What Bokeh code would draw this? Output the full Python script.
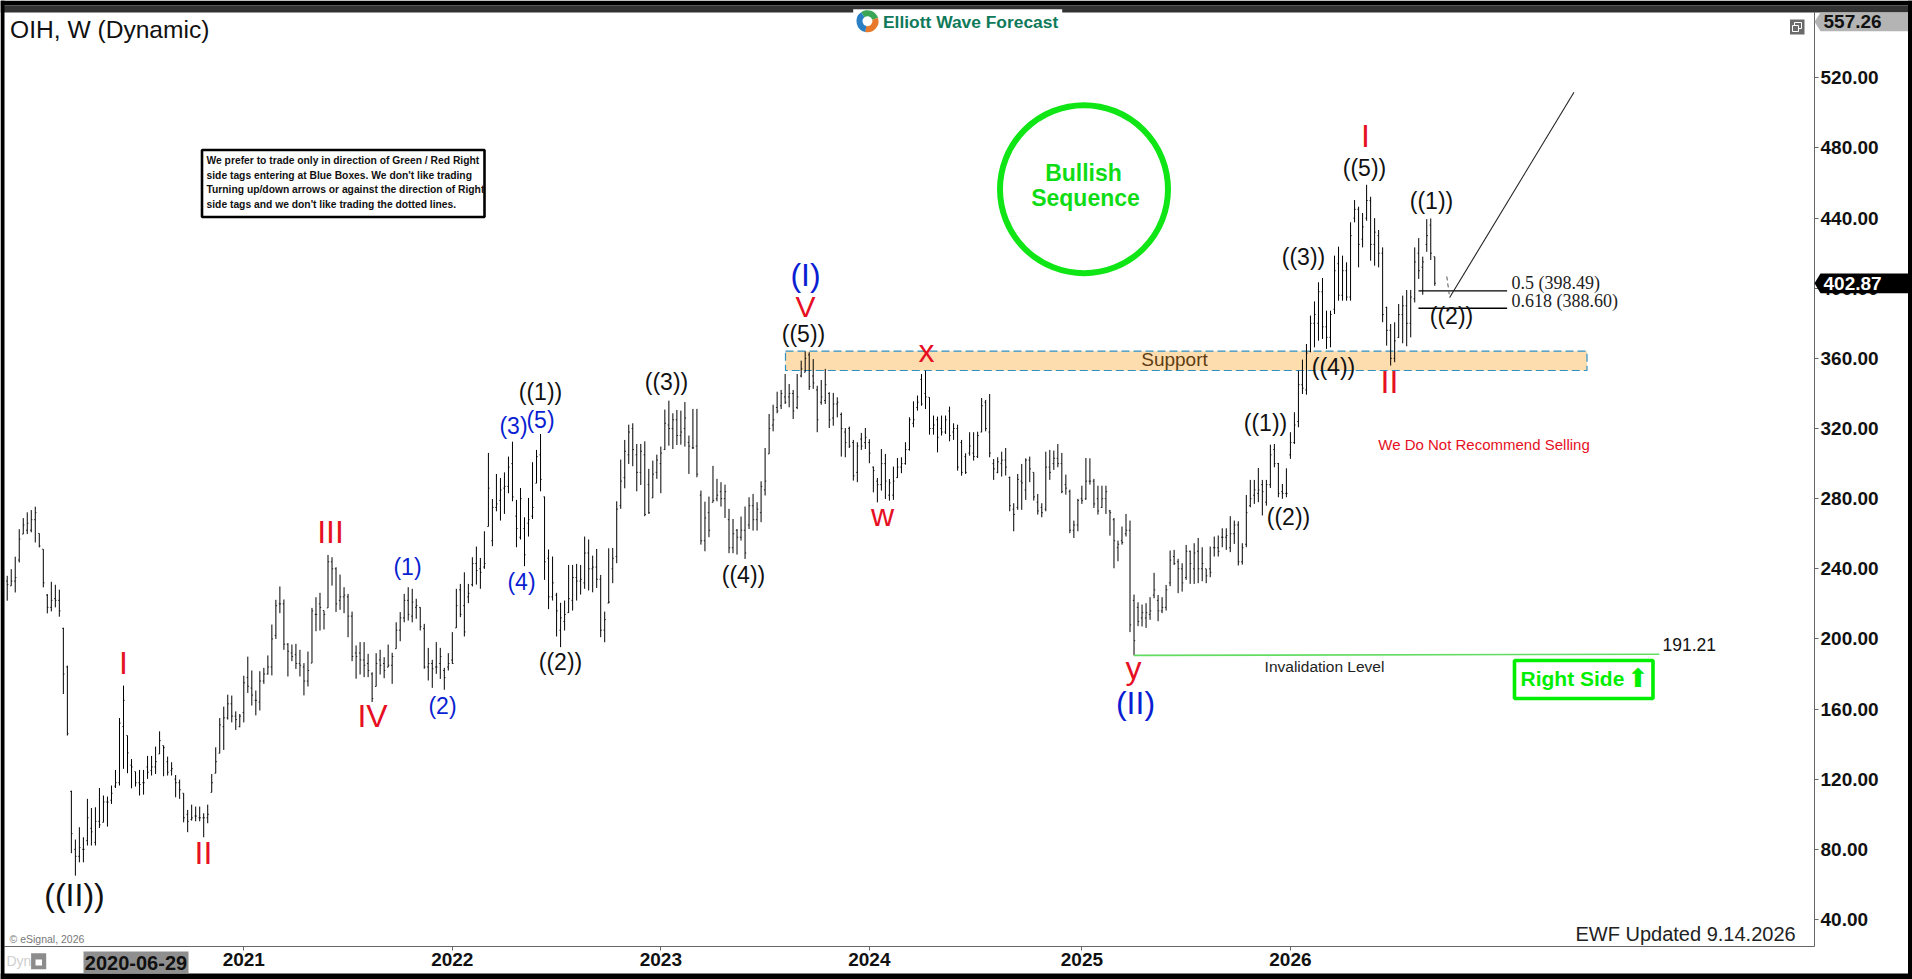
import numpy as np
import pandas as pd
from bokeh.core.properties import value
from bokeh.embed import file_html
from bokeh.models import (BoxAnnotation, ColumnDataSource, FixedTicker, Label,
                          NumeralTickFormatter, PolyAnnotation, Range1d)
from bokeh.plotting import figure
from bokeh.resources import INLINE

# weekly OHLC
first_week = "2019-11-18"
highs = [
    236.0, 239.8, 246.9, 262.6, 268.9, 272.2, 273.5, 275.4, 260.2, 251.2, 225.6, 232.6, 230.9, 228.1, 206.4, 184.8,
    113.5, 85.6, 92.6, 86.9, 108.8, 103.6, 104.0, 115.0, 110.7, 110.1, 116.4, 125.3, 154.9, 173.4, 144.9, 131.5,
    124.3, 125.3, 125.3, 133.3, 133.3, 138.6, 147.3, 139.2, 132.9, 129.7, 122.4, 119.8, 112.0, 102.5, 105.5, 104.4,
    104.4, 100.6, 105.5, 123.0, 138.2, 154.9, 161.4, 168.2, 167.7, 158.7, 157.2, 179.0, 189.9,
    182.0, 170.6, 181.6, 183.5, 190.6, 208.2, 222.3, 229.9, 222.5, 197.6, 196.8, 197.2, 193.8, 186.2, 192.8, 217.7,
    223.8, 226.3, 216.2, 247.9, 246.6, 240.9, 236.7, 229.5, 225.7, 215.6, 196.3, 198.2, 198.2, 191.5, 181.0, 191.9,
    193.8, 189.6, 196.8, 192.1, 209.5, 215.3, 225.7, 229.5, 228.6, 222.9, 218.1, 208.6, 194.9, 188.1, 198.2, 194.9,
    183.5, 191.9, 203.9, 228.6, 231.4, 238.0, 231.4, 246.6, 252.7, 246.2, 261.4, 306.1,
    279.8, 294.1, 291.8, 295.0, 304.0, 312.5, 279.3, 286.1, 269.4, 280.4, 300.8, 307.8, 316.9, 281.2, 251.0, 247.0,
    226.3, 220.6, 221.9, 242.2, 242.2, 242.8, 242.2, 258.4, 256.7, 247.5, 251.3, 236.5, 215.6, 251.7, 251.9, 278.5,
    302.3, 313.5, 322.2, 323.0, 311.2, 311.2, 312.7, 297.0, 301.7, 305.1, 309.7, 330.8, 335.9, 328.7, 330.6, 330.2,
    335.1, 316.0, 331.2, 331.2, 284.6, 278.3, 281.2, 298.7, 291.3, 289.4, 288.0,
    274.2, 268.4, 262.7, 269.8, 275.5, 280.8, 282.7, 278.0, 289.9, 308.9, 328.3, 333.6, 341.0, 342.0, 351.1, 345.4,
    342.0, 351.1, 358.7, 364.0, 363.5, 359.6, 344.4, 347.7, 354.0, 340.7, 340.3, 337.8, 329.1, 320.3, 321.1, 313.5,
    312.2, 317.5, 320.3, 313.9, 298.3, 291.8, 308.3, 305.5, 291.2, 298.3, 303.2, 303.6, 312.2, 326.4, 335.5, 338.8,
    351.1, 353.0, 337.8, 327.4, 326.8, 327.4, 327.4, 332.5, 323.0, 322.2, 313.5, 305.9, 317.9,
    317.9, 318.2, 337.4, 336.3, 339.7, 302.6, 303.6, 306.8, 308.9, 292.6, 277.4, 294.1, 299.8, 303.0, 304.0, 295.0,
    282.7, 277.4, 306.8, 307.8, 307.4, 311.2, 306.1, 293.7, 285.2, 267.5, 279.9, 287.4, 303.2, 303.0, 291.3, 287.4,
    287.4, 287.4, 273.6, 269.0, 256.1, 264.1, 271.3, 267.5, 225.3, 220.9, 219.6, 220.4, 223.8, 237.7, 225.1, 223.8,
    230.8, 250.4, 250.8, 245.7, 243.2, 253.6, 250.4, 254.6, 257.6, 252.3, 240.0, 252.7,
    258.4, 259.0, 263.1, 263.1, 270.0, 267.5, 267.1, 254.6, 282.1, 290.7, 290.7, 297.5, 290.7, 290.7, 310.8, 311.2,
    300.4, 288.4, 297.3, 317.9, 329.3, 353.0, 359.3, 368.2, 384.4, 392.5, 403.4, 405.8, 387.2, 387.2, 418.6, 423.7,
    418.6, 414.8, 437.6, 450.3, 446.5, 442.9, 459.0, 452.2, 440.0, 433.2, 423.3, 389.5, 379.6, 380.6, 391.0, 395.8,
    399.0, 399.0, 423.3, 428.6, 418.0, 439.4, 439.8, 418.0,
]
lows = [
    221.8, 230.3, 226.5, 243.6, 259.8, 259.8, 260.8, 255.0, 252.2, 229.4, 214.6, 215.7, 218.0, 212.7, 168.6, 144.9,
    77.8, 65.0, 72.6, 72.6, 82.2, 82.2, 82.2, 92.2, 95.4, 93.0, 105.9, 115.0, 116.4, 125.9, 123.4, 114.8,
    115.8, 110.7, 111.2, 120.2, 122.1, 123.0, 134.4, 121.7, 122.1, 122.1, 109.7, 108.8, 95.4, 89.8, 96.4, 96.0,
    96.0, 86.9, 94.9, 112.5, 123.4, 134.8, 136.7, 154.0, 152.4, 148.1, 149.6, 152.4, 169.2,
    162.0, 156.4, 159.2, 174.4, 179.7, 179.2, 200.0, 214.7, 193.8, 178.6, 187.3, 182.9, 178.6, 167.8, 172.9, 186.2,
    204.4, 204.8, 205.4, 217.7, 230.4, 215.4, 216.6, 214.7, 201.0, 187.3, 177.3, 179.7, 178.2, 178.2, 164.0, 172.9,
    179.7, 177.6, 183.9, 174.4, 194.4, 198.7, 209.5, 210.5, 209.5, 211.5, 204.8, 183.0, 176.3, 172.1, 180.1, 177.2,
    171.0, 182.0, 185.8, 206.3, 212.4, 201.4, 220.4, 229.9, 231.0, 228.6, 240.0, 264.1,
    252.9, 272.8, 267.5, 271.3, 283.1, 278.5, 252.3, 256.7, 241.5, 258.4, 268.4, 288.8, 284.2, 233.7, 217.0, 221.9,
    201.4, 195.3, 204.8, 214.9, 216.2, 221.9, 225.3, 228.6, 227.6, 226.6, 229.1, 201.0, 198.1, 220.4, 231.8, 243.2,
    274.2, 285.9, 299.8, 298.5, 284.2, 287.8, 270.0, 271.3, 280.4, 291.3, 283.1, 307.8, 310.2, 308.3, 310.6, 310.8,
    309.7, 294.1, 308.3, 292.2, 253.8, 250.0, 258.0, 277.9, 278.5, 275.5, 269.0,
    248.9, 248.9, 248.1, 256.1, 245.6, 262.7, 261.8, 261.8, 266.6, 281.8, 305.5, 318.4, 328.7, 331.1, 334.0, 332.1,
    325.4, 331.1, 349.2, 352.1, 342.0, 342.6, 317.9, 333.6, 334.0, 320.3, 321.6, 326.4, 304.0, 303.6, 308.9, 290.3,
    289.4, 307.8, 308.3, 300.2, 283.6, 277.9, 284.6, 279.8, 278.9, 279.3, 291.8, 294.5, 299.4, 307.4, 320.7, 330.2,
    333.0, 331.1, 316.5, 316.5, 306.4, 316.0, 316.9, 312.7, 313.5, 296.0, 293.1, 294.1, 304.5,
    301.7, 303.2, 317.9, 318.4, 303.6, 290.7, 294.5, 292.6, 293.2, 272.8, 261.4, 273.6, 273.6, 279.3, 289.4, 278.9,
    270.9, 269.4, 272.8, 290.7, 296.4, 297.9, 283.1, 282.3, 260.3, 257.6, 261.4, 277.0, 279.3, 288.0, 274.7, 270.9,
    274.7, 271.3, 258.9, 240.3, 244.3, 253.8, 258.4, 203.9, 190.6, 207.3, 207.1, 206.3, 210.9, 223.2, 210.1, 214.7,
    216.2, 230.1, 242.2, 226.1, 227.0, 233.7, 231.4, 231.4, 231.8, 232.9, 231.8, 235.2,
    247.0, 247.0, 252.3, 250.8, 249.5, 254.2, 241.9, 242.4, 252.3, 275.1, 277.0, 278.0, 270.4, 276.0, 286.1, 297.9,
    280.8, 279.9, 280.8, 302.7, 311.2, 320.7, 339.7, 339.3, 363.5, 366.3, 370.1, 371.1, 365.4, 366.3, 385.3, 392.9,
    392.9, 392.9, 392.9, 437.6, 411.9, 423.3, 438.5, 415.7, 412.9, 411.9, 380.6, 367.3, 355.9, 357.8, 371.6, 368.6,
    366.9, 372.0, 391.9, 405.3, 396.3, 420.8, 416.1, 401.4,
]
opens = [
    233, 228, 233, 245, 258, 262, 262, 268, 268, 252, 225, 218, 223, 222, 206, 184, 113, 80, 76, 80,
    85, 92, 84, 96, 95, 107, 108, 116, 118, 150, 145, 128, 125, 118, 118, 127, 125, 127, 132, 140,
    130, 125, 120, 118, 112, 100, 97, 99, 98, 98, 98, 105, 120, 128, 150, 155, 163, 156, 150, 158, 178,
    172, 165, 164, 176, 180, 184, 202, 220, 220, 197, 192, 191, 186, 184, 176, 186, 214, 220, 218, 216,
    244, 240, 222, 224, 224, 213, 192, 192, 188, 186, 180, 166, 188, 186, 182, 185, 192, 205, 212, 222,
    213, 218, 218, 206, 184, 186, 184, 186, 182, 184, 188, 206, 228, 219, 224, 231, 243, 240, 241, 264,
    256, 275, 279, 286, 287, 300, 270, 258, 263, 266, 270, 275, 305, 281, 246, 224, 225, 205, 210, 215,
    222, 235, 233, 232, 249, 240, 241, 234, 205, 212, 240, 247, 276, 292, 305, 320, 305, 295, 305, 288,
    272, 295, 300, 308, 322, 320, 325, 316, 320, 312, 309, 310, 282, 256, 272, 262, 280, 284, 280,
    268, 252, 262, 258, 262, 265, 276, 268, 272, 285, 305, 322, 332, 333, 338, 338, 340, 332, 350, 352,
    362, 350, 342, 335, 336, 340, 326, 334, 328, 318, 320, 312, 295, 314, 312, 312, 298, 290, 288, 300,
    282, 282, 292, 298, 300, 308, 323, 332, 348, 340, 338, 320, 325, 320, 318, 330, 318, 320, 312, 304, 306,
    306, 304, 318, 335, 318, 300, 295, 300, 302, 292, 274, 275, 290, 285, 302, 295, 278, 275, 274, 298,
    300, 303, 300, 288, 284, 262, 265, 280, 280, 290, 290, 280, 275, 280, 273, 268, 252, 256, 260, 262,
    222, 218, 212, 212, 214, 225, 222, 216, 218, 232, 247, 244, 240, 235, 250, 240, 250, 240, 240, 240,
    252, 252, 258, 258, 252, 260, 265, 244, 254, 276, 282, 283, 288, 278, 288, 308, 300, 284, 283, 305,
    312, 324, 345, 342, 364, 380, 380, 398, 378, 372, 388, 414, 396, 410, 395, 440, 445, 428, 440, 450,
    425, 430, 420, 389, 376, 360, 372, 385, 390, 380, 394, 420, 412, 425, 436, 418,
]
closes = [
    231, 233, 235, 257, 265, 266, 268, 272, 253, 232, 218, 222, 222, 216, 180, 146, 89, 76, 81, 80,
    98, 90, 96, 94, 107, 107, 112, 118, 152, 165, 135, 127, 118, 117, 118, 124, 127, 130, 142, 138,
    124, 126, 118, 114, 98, 96, 98, 99, 98, 98, 100, 118, 130, 151, 155, 163, 156, 154, 156, 175, 173,
    168, 165, 176, 180, 184, 200, 219, 220, 197, 193, 190, 186, 185, 176, 182, 216, 214, 218, 214, 244,
    240, 220, 224, 225, 213, 190, 190, 188, 185, 182, 166, 186, 185, 182, 185, 190, 205, 212, 222, 214,
    221, 219, 207, 184, 186, 183, 184, 190, 178, 186, 186, 219, 214, 204, 226, 243, 239, 238, 243, 286,
    275, 277, 285, 287, 298, 281, 263, 280, 248, 268, 275, 304, 291, 244, 224, 232, 216, 212, 214, 223,
    235, 233, 234, 249, 240, 241, 234, 205, 211, 221, 246, 274, 290, 307, 318, 308, 295, 307, 271, 272,
    294, 302, 306, 323, 320, 325, 316, 318, 326, 310, 309, 294, 256, 269, 262, 279, 282, 280, 284,
    252, 260, 258, 262, 249, 276, 268, 274, 287, 290, 320, 325, 330, 340, 335, 340, 330, 338, 354, 360,
    344, 346, 325, 338, 345, 325, 334, 335, 320, 312, 310, 293, 310, 310, 315, 306, 296, 288, 300, 290,
    289, 290, 298, 300, 308, 325, 325, 335, 334, 338, 320, 322, 315, 318, 325, 316, 320, 298, 295, 295, 310,
    304, 316, 333, 320, 306, 297, 301, 302, 298, 276, 271, 291, 289, 302, 297, 281, 273, 272, 298, 295,
    303, 300, 284, 286, 262, 265, 279, 279, 290, 290, 277, 273, 280, 284, 272, 256, 254, 255, 262, 208,
    199, 210, 215, 215, 216, 228, 216, 218, 228, 245, 243, 240, 232, 250, 243, 249, 240, 243, 236, 238,
    252, 250, 258, 259, 260, 265, 244, 252, 272, 280, 285, 285, 284, 288, 305, 300, 283, 283, 283, 312,
    322, 345, 343, 363, 380, 385, 398, 378, 372, 385, 410, 396, 410, 395, 430, 445, 425, 435, 450, 425,
    432, 420, 385, 376, 360, 370, 385, 390, 380, 395, 415, 410, 415, 430, 420, 402.87,
]

y_ticks = [40, 80, 120, 160, 200, 240, 280, 320, 360, 400, 440, 480, 520]
year_ticks = {"2021-01-04": "2021", "2022-01-03": "2022", "2023-01-02": "2023",
              "2024-01-01": "2024", "2025-01-06": "2025", "2026-01-05": "2026"}
fib_prices = [398.49, 388.60]
fib_names = ["0.5 (398.49)", "0.618 (388.60)"]
support_top, support_bottom = 364.1, 353.1
invalid_dates = ["2025-04-07", "2027-10-11"]
invalid_prices = [190.6, 191.3]
forecast_dates = ["2026-10-05", "2026-10-10", "2027-05-15"]
forecast_prices = [406.7, 394.7, 511.8]

# label, px x, px y, font px, colour
BLACK, RED, BLUE = "#111111", "#e60f23", "#0a1ed2"
wave_labels = [
    ("((II))", 74, 897, 32, BLACK), ("I", 123, 665, 32, RED), ("II", 203, 855, 32, RED),
    ("III", 330, 534, 32, RED), ("IV", 372, 718, 32, RED), ("(1)", 407, 568, 23, BLUE),
    ("(2)", 442, 707, 23, BLUE), ("(3)", 513, 427, 23, BLUE), ("(4)", 521, 583, 23, BLUE),
    ("(5)", 540, 421, 23, BLUE), ("((1))", 540, 393, 23, BLACK), ("((2))", 560, 663, 23, BLACK),
    ("((3))", 666, 383, 23, BLACK), ("((4))", 743, 576, 23, BLACK), ("((5))", 803, 335, 23, BLACK),
    ("(I)", 805, 277, 32, BLUE), ("V", 805, 308, 30, RED), ("x", 926, 353, 32, RED),
    ("w", 882, 517, 32, RED), ("y", 1133, 670, 32, RED), ("(II)", 1135, 705, 32, BLUE),
    ("((1))", 1265, 424, 23, BLACK), ("((2))", 1288, 518, 23, BLACK), ("((3))", 1303, 258, 23, BLACK),
    ("((4))", 1333, 368, 23, BLACK), ("II", 1389, 384, 32, RED), ("I", 1365, 138, 32, RED),
    ("((5))", 1364, 169, 23, BLACK), ("((1))", 1431, 202, 23, BLACK), ("((2))", 1451, 317, 23, BLACK),
]
note_lines = ["We prefer to trade only in direction of Green / Red Right",
              "side tags entering at Blue Boxes. We don't like trading",
              "Turning up/down arrows or against the direction of Right",
              "side tags and we don't like trading the dotted lines."]

PLOT_W, PLOT_H = 1912, 979
FRAME_R, FRAME_B = 1814, 946
Y_TOP = 557.26
Y_PER_PX = 0.5703
WEEK = 7 * 86400000.0
PX_PER_WEEK = 4.01
ANCHOR_MS = pd.Timestamp("2021-01-04").timestamp() * 1000
SANS = "Liberation Sans"


def ms(day):
    return pd.Timestamp(day).timestamp() * 1000


def fx(px):
    return ANCHOR_MS + (px - 243.3) * WEEK / PX_PER_WEEK


def fy(py):
    return Y_TOP - (py - 12) * Y_PER_PX


def put_text(text, px, py, size, color="#111111", font=SANS, style="normal", align="left"):
    p.add_layout(Label(x=fx(px), y=fy(py), text=text, text_font=font, text_font_style=style,
                       text_font_size=f"{size}px", text_color=color, text_align=align,
                       text_baseline="middle"))


def put_box(x0, x1, y0, y1, color):
    p.add_layout(BoxAnnotation(left=fx(x0), right=fx(x1), top=fy(y0), bottom=fy(y1), fill_color=color,
                               fill_alpha=1, line_color=None))


dates = pd.date_range(first_week, periods=len(highs), freq="W-MON")
highs_a, lows_a = np.array(highs), np.array(lows)
opens_a = np.clip(opens, lows_a, highs_a)
closes_a = np.clip(closes, lows_a, highs_a)
x_ms = np.array([d.timestamp() * 1000 for d in dates])
tick_len = 1.2 * WEEK / PX_PER_WEEK

# the frame fills the whole page so that tags and chrome are not cut off; the axes sit inside it
p = figure(width=PLOT_W, height=PLOT_H, x_axis_type="datetime", y_axis_location="right",
           x_range=Range1d(fx(0), fx(PLOT_W)), y_range=Range1d(fy(PLOT_H), fy(0)),
           output_backend="svg", toolbar_location=None, min_border=0,
           background_fill_color="white", border_fill_color="white")
p.grid.visible = False
p.outline_line_color = None

p.yaxis.ticker = FixedTicker(ticks=y_ticks)
p.yaxis.formatter = NumeralTickFormatter(format="0.00")
p.xaxis.ticker = FixedTicker(ticks=[ms(d) for d in year_ticks])
p.xaxis.major_label_overrides = {ms(d): name for d, name in year_ticks.items()}
p.yaxis.fixed_location = fx(FRAME_R)
p.xaxis.fixed_location = fy(FRAME_B)
p.yaxis.bounds = (fy(FRAME_B), Y_TOP)
p.xaxis.bounds = (fx(4), fx(FRAME_R))
for ax in (p.xaxis, p.yaxis):
    ax.axis_line_color = "#666666"
    ax.major_tick_line_color = "#666666"
    ax.major_tick_out = 4
    ax.major_tick_in = 0
    ax.minor_tick_line_color = None
    ax.major_label_text_font = SANS
    ax.major_label_text_font_style = "bold"
    ax.major_label_text_font_size = "19px"
    ax.major_label_text_color = "#111111"
    ax.major_label_standoff = 2

# support zone under the bars
p.quad(left=fx(785), right=fx(1586.5), top=support_top, bottom=support_bottom, fill_color="#fddcae",
       line_color="#2f8fc0", line_dash="8 4", line_width=1.2)

# bars
src = ColumnDataSource(dict(x=x_ms, o_x=x_ms - tick_len, c_x=x_ms + tick_len, high=highs_a, low=lows_a,
                            open=opens_a, close=closes_a))
p.segment(x0="x", y0="low", x1="x", y1="high", source=src, line_color="black", line_width=1)
p.segment(x0="o_x", y0="open", x1="x", y1="open", source=src, line_color="black", line_width=0.8)
p.segment(x0="x", y0="close", x1="c_x", y1="close", source=src, line_color="black", line_width=0.8)

# invalidation, fib levels, forecast path
p.line(x=[ms(d) for d in invalid_dates], y=invalid_prices, line_color="#62dc62", line_width=1.6)
p.segment(x0=[fx(1418)] * 2, x1=[fx(1506.6)] * 2, y0=fib_prices, y1=fib_prices, line_color="black", line_width=1.3)
p.line(x=[ms(d) for d in forecast_dates[:2]], y=forecast_prices[:2], line_color="#555555", line_width=1, line_dash="4 3")
p.line(x=[ms(d) for d in forecast_dates[1:]], y=forecast_prices[1:], line_color="#222222", line_width=1.1)

# notes boxes
p.quad(left=fx(201.5), right=fx(484), top=fy(149.5), bottom=fy(216.5), fill_color="white", line_color="black", line_width=2.6)
p.quad(left=fx(1514), right=fx(1652.5), top=fy(660), bottom=fy(698), fill_color="white", line_color="#00ee00", line_width=3.6)
p.scatter(x=[fx(1083.5)], y=[fy(188.7)], marker="circle", size=168, fill_alpha=0, line_color="#10e616", line_width=6)

# window icon top right
p.quad(left=fx(1789.5), right=fx(1804), top=fy(19), bottom=fy(34), fill_color="#6a6a6a", line_color=None)
p.quad(left=fx(1794), right=fx(1801), top=fy(22), bottom=fy(28), fill_color=None, line_color="white", line_width=1)
p.quad(left=fx(1792), right=fx(1798), top=fy(25), bottom=fy(31), fill_color="#6a6a6a", line_color="white", line_width=1)

# middle baseline sits a little low, lift by a share of the font size
labels = ColumnDataSource(dict(
    x=[fx(w[1]) for w in wave_labels], y=[fy(w[2] - w[3] * 0.08) for w in wave_labels], text=[w[0] for w in wave_labels],
    size=[f"{w[3]}px" for w in wave_labels], color=[w[4] for w in wave_labels]))
p.text(x="x", y="y", text="text", text_font_size="size", text_color="color", source=labels, text_align="center",
       text_baseline="middle", text_font=value(SANS))

put_text("OIH, W (Dynamic)", 9.5, 29, 24.6)
put_text("Support", 1174, 359, 19, "#5e3d12", align="center")
for name, py in zip(fib_names, [282, 300]):
    put_text(name, 1511, py, 18, "#222222", font="Liberation Serif")
for line, py in zip(note_lines, [160, 175, 189, 204]):
    put_text(line, 206, py, 10.3, "#111111", style="bold")
put_text("We Do Not Recommend Selling", 1483.5, 444, 15, "#e60f23", align="center")
put_text("Invalidation Level", 1324, 666, 15.5, "#222222", align="center")
put_text("191.21", 1662, 644, 17.5, "#111111")
put_text("Right Side", 1520, 678, 21, "#00ee00", style="bold")
put_text("\u2b06", 1637.5, 677, 26, "#00ee00", font="DejaVu Sans", align="center")
put_text("Bullish", 1083, 172, 23, "#10dc16", style="bold", align="center")
put_text("Sequence", 1085, 197.5, 23, "#10dc16", style="bold", align="center")
put_text("EWF Updated 9.14.2026", 1575, 933, 20, "#222222")
put_text("\u00a9 eSignal, 2026", 9, 938, 10.5, "#777777")

# page chrome, drawn over the axes
put_box(0, PLOT_W, 0, 5, "black")
put_box(0, PLOT_W, 5, 12, "#333333")
put_box(0, 4, 0, PLOT_H, "black")
put_box(0, PLOT_W, 973, PLOT_H, "black")
put_box(1907.5, PLOT_W, 0, PLOT_H, "black")

# logo
put_box(852.7, 1061.7, 8.7, 33, "white")
put_text("Elliott Wave Forecast", 882.5, 21.7, 17.4, "#0f7a5a", style="bold")
for start, end, color in [(0.3, 2.2, "#3aa655"), (-1.8, 0.3, "#e8792a"), (2.2, 4.5, "#2a7fc4")]:
    p.annular_wedge(x=[fx(867)], y=[fy(20.7)], inner_radius=5, outer_radius=11, inner_radius_units="screen",
                    outer_radius_units="screen", start_angle=start, end_angle=end, fill_color=color, line_color=None,
                    level="overlay")

# price tags on the right axis
for y0, y1, color, text, text_color in [(12, 30.7, "#b4b4b4", "557.26", "#111111"),
                                        (273, 292.7, "black", "402.87", "white")]:
    mid = (y0 + y1) / 2
    p.add_layout(PolyAnnotation(xs=[fx(1814), fx(1820), fx(1907.5), fx(1907.5), fx(1820)],
                                ys=[fy(mid), fy(y0), fy(y0), fy(y1), fy(y1)],
                                fill_color=color, fill_alpha=1, line_color=None))
    put_text(text, 1823, mid, 19, text_color, style="bold")

# date under the cursor and the corner icons
put_box(83, 188, 951, 972.7, "#8f8f8f")
put_text("2020-06-29", 135.5, 962.5, 20, "#111111", style="bold", align="center")
put_text("Dyn", 6, 960, 14, "#cfcfcf")
put_box(30.6, 45.7, 952.7, 968.7, "#8c8c8c")
put_box(35, 41.5, 959, 965, "white")

open("out.html", "w").write(file_html(p, INLINE))
